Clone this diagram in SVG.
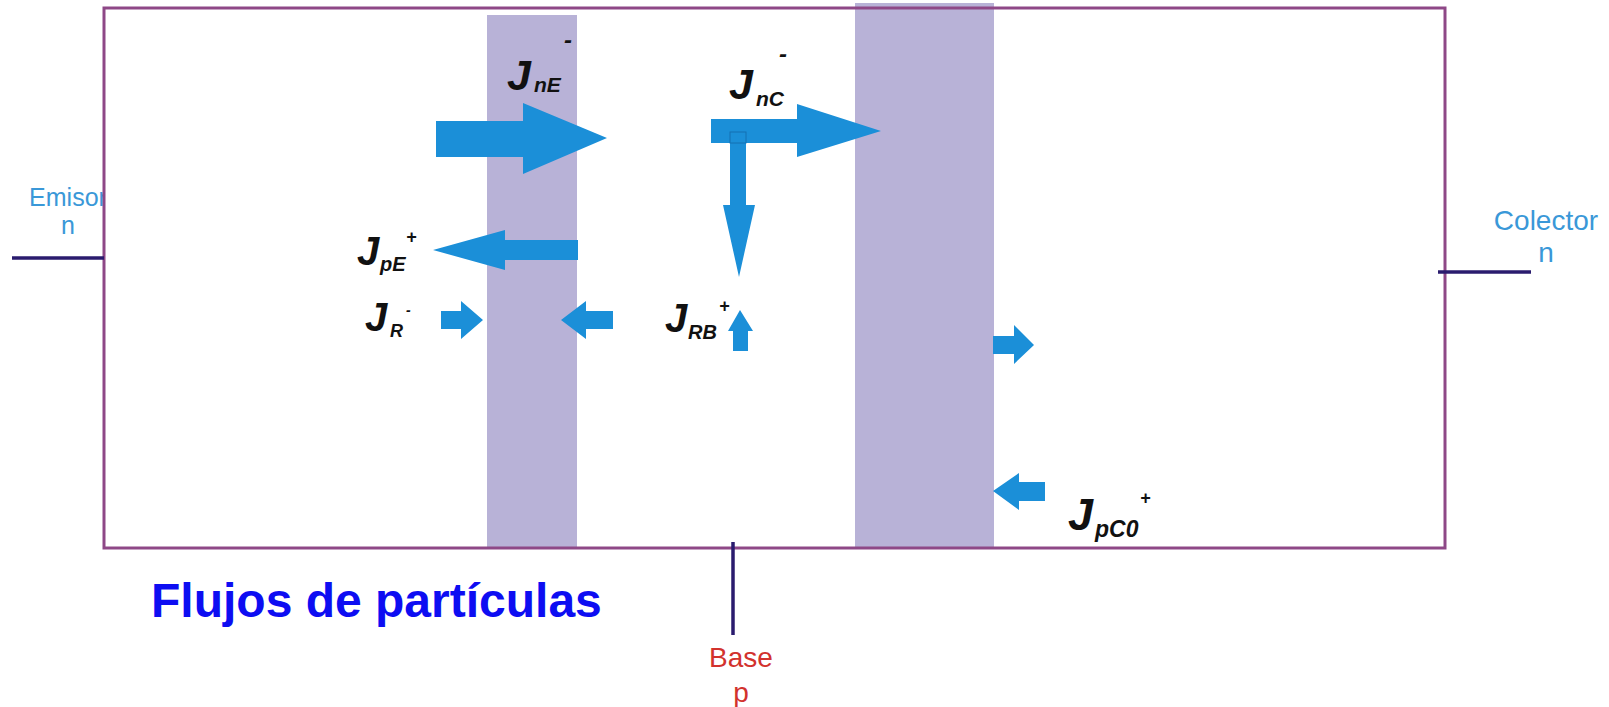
<svg xmlns="http://www.w3.org/2000/svg" width="1609" height="707" viewBox="0 0 1609 707">
<style>
.arrow{fill:#1b8fd8}
.band{fill:#b8b2d7}
.frame{fill:none;stroke:#8e4887;stroke-width:3}
.lead{stroke:#2a1b6e;stroke-width:3.5;fill:none}
.J{font-family:"Liberation Sans",Arial,sans-serif;font-weight:bold;font-style:italic;fill:#111}
.term{font-family:"Liberation Sans",Arial,sans-serif;fill:#3a98d8}
.base{font-family:"Liberation Sans",Arial,sans-serif;fill:#d2322d}
.title{font-family:"Liberation Sans",Arial,sans-serif;font-weight:bold;fill:#0d0df2}
</style>
<rect width="1609" height="707" fill="#ffffff"/>
<g id="emisor">
<text class="term" x="68" y="206" font-size="25" text-anchor="middle">Emisor</text>
<text class="term" x="68" y="234" font-size="25" text-anchor="middle">n</text>
</g>
<g id="device">
<rect x="104" y="8" width="1341" height="540" fill="#ffffff"/>
<rect class="band" x="487" y="15" width="90" height="533"/>
<rect class="band" x="855" y="3" width="139" height="545"/>
<rect class="frame" x="104" y="8" width="1341" height="540"/>
</g>
<g id="colector">
<text class="term" x="1546" y="230" font-size="28" text-anchor="middle">Colector</text>
<text class="term" x="1546" y="262" font-size="28" text-anchor="middle">n</text>
</g>
<g id="base">
<text class="base" x="741" y="667" font-size="28" text-anchor="middle">Base</text>
<text class="base" x="741" y="702" font-size="28" text-anchor="middle">p</text>
</g>
<g id="connectors">
<line class="lead" x1="12" y1="258" x2="104" y2="258"/>
<line class="lead" x1="1438" y1="272" x2="1531" y2="272"/>
<line class="lead" x1="733" y1="542" x2="733" y2="635"/>
</g>
<g id="JnE">
<polygon class="arrow" points="436,121 523,121 523,103 607,138 523,174 523,157 436,157"/>
<text class="J" x="507" y="90" font-size="43">J</text>
<text class="J" x="534" y="92" font-size="21">nE</text>
<text class="J" x="564" y="48" font-size="24">-</text>
</g>
<g id="JpE">
<polygon class="arrow" points="578,240 505,240 505,230 433,250 505,270 505,260 578,260"/>
<text class="J" x="357" y="265" font-size="40">J</text>
<text class="J" x="380" y="271" font-size="20">pE</text>
<text class="J" x="406" y="243" font-size="18">+</text>
</g>
<g id="JnC">
<polygon class="arrow" points="711,119 797,119 797,104 881,131 797,157 797,143 711,143"/>
<polygon class="arrow" points="730,132 746,132 746,205 755,205 739,277 723,205 730,205"/>
<rect x="730" y="132" width="16" height="11" fill="none" stroke="#1570b2" stroke-width="1"/>
<text class="J" x="729" y="99" font-size="43">J</text>
<text class="J" x="756" y="106" font-size="21">nC</text>
<text class="J" x="779" y="62" font-size="24">-</text>
</g>
<g id="JR">
<polygon class="arrow" points="441,311 461,311 461,301 483,320 461,339 461,329 441,329"/>
<polygon class="arrow" points="613,311 586,311 586,301 561,320 586,339 586,329 613,329"/>
<text class="J" x="365" y="331" font-size="40">J</text>
<text class="J" x="390" y="337" font-size="18">R</text>
<text class="J" x="406" y="315" font-size="14">-</text>
</g>
<g id="JRB">
<polygon class="arrow" points="740,310 753,331 748,331 748,351 733,351 733,331 728,331"/>
<text class="J" x="665" y="332" font-size="40">J</text>
<text class="J" x="688" y="339" font-size="20">RB</text>
<text class="J" x="719" y="312" font-size="18">+</text>
</g>
<g id="Jcol">
<polygon class="arrow" points="993,336 1014,336 1014,325 1034,345 1014,364 1014,354 993,354"/>
</g>
<g id="JpC0">
<polygon class="arrow" points="1045,482 1019,482 1019,473 993,491 1019,510 1019,501 1045,501"/>
<text class="J" x="1068" y="530" font-size="45">J</text>
<text class="J" x="1095" y="537" font-size="23">pC0</text>
<text class="J" x="1140" y="504" font-size="18">+</text>
</g>
<g id="title">
<text class="title" x="151" y="617" font-size="48">Flujos de partículas</text>
</g>
</svg>
